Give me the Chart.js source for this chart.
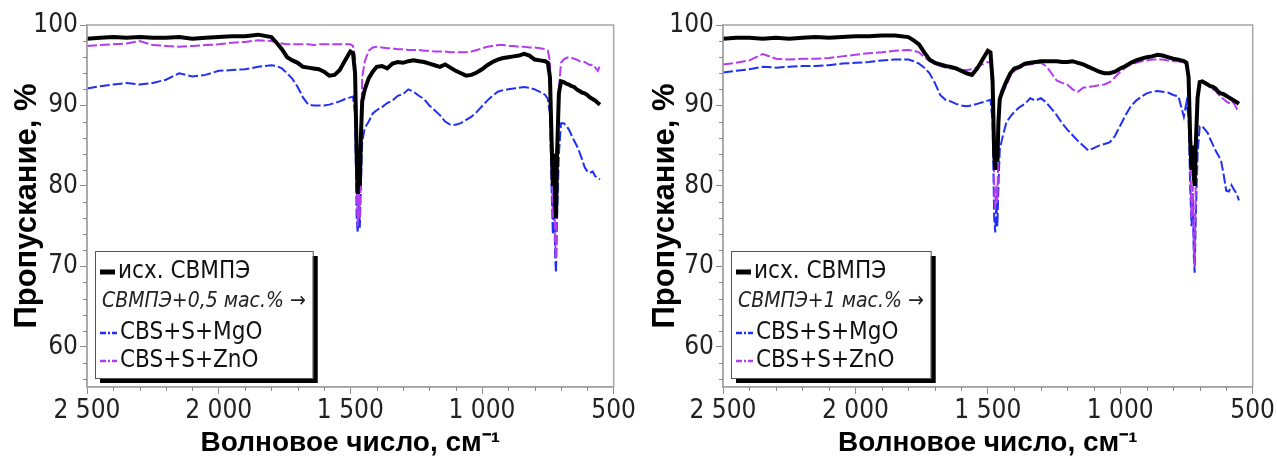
<!DOCTYPE html>
<html>
<head>
<meta charset="utf-8">
<script src="https://cdn.jsdelivr.net/npm/chart.js@4.4.1/dist/chart.umd.min.js"></script>
<style>
    body { margin: 0; background: #fff; }
    .panel { position: absolute; top: 0; }
</style>
</head>
<body>
<canvas id="leftChart" class="panel" style="left:0" width="638" height="457"></canvas>
<canvas id="rightChart" class="panel" style="left:638px" width="639" height="457"></canvas>
<script>
const wavenumbers = [
    2500, 2450, 2400, 2350, 2300, 2250, 2200, 2150, 2100, 2050, 2000, 1950, 1900, 1850, 1800,
    1780, 1760, 1740, 1720, 1700, 1680, 1660, 1640, 1620, 1600, 1580, 1560, 1540, 1520, 1500,
    1490, 1482, 1476, 1472, 1468, 1464, 1460, 1455,
    1445, 1430, 1415, 1400,
    1380, 1360, 1340, 1320, 1300, 1280, 1260, 1240, 1220, 1200, 1180, 1160, 1140, 1120, 1100, 1080,
    1060, 1040, 1020, 1000, 980, 960, 940, 920, 900, 880, 860, 840, 820, 800, 780, 760,
    750, 742, 736, 731, 726, 722, 719, 715, 708,
    700, 690, 680, 670, 660, 650, 640, 630, 620, 610, 600, 590, 580, 570, 560, 552
];

// левый график: +0,5 мас.%
const leftBase = [
    98.3, 98.4, 98.5, 98.4, 98.5, 98.4, 98.4, 98.5, 98.3, 98.4, 98.5, 98.6, 98.6, 98.8, 98.5,
    97.8, 97.0, 96.0, 95.6, 95.3, 94.8, 94.7, 94.6, 94.5, 94.2, 93.7, 93.8, 94.4, 95.6, 96.7,
    96.5, 94.0, 84, 79, 84, 80, 86, 90.5,
    92.0, 93.4, 94.2, 94.8,
    94.9, 94.6, 95.2, 95.4, 95.3, 95.5, 95.6, 95.5, 95.4, 95.2, 95.0, 94.8, 95.1, 94.7, 94.3, 94.0,
    93.7, 93.8, 94.1, 94.5, 95.0, 95.4, 95.7, 95.9, 96.0, 96.1, 96.2, 96.4, 96.2, 95.7, 95.6, 95.5,
    95.3, 93.5, 86, 80, 84, 78, 76, 84, 91.5,
    93.0, 92.9, 92.7, 92.6, 92.4, 92.3, 92.0, 91.8, 91.6, 91.5, 91.3, 91.0, 90.8, 90.6, 90.3, 90.1
];
const leftMgO = [
    92.1, 92.4, 92.6, 92.8, 92.6, 92.8, 93.2, 94.0, 93.6, 93.8, 94.3, 94.4, 94.5, 94.8, 95.0,
    94.9, 94.6, 94.0, 93.3, 92.3, 91.0, 90.1, 90.0, 90.0, 90.0, 90.1, 90.3, 90.5, 90.8, 91.0,
    91.1, 89, 76, 74.2, 78, 74.8, 80, 85.5,
    87.2, 88.0, 89.0, 89.4,
    89.8, 90.3, 90.6, 91.2, 91.4, 92.0, 91.7, 91.2, 90.8, 90.0, 89.4, 88.8, 88.0, 87.6, 87.6, 87.8,
    88.2, 88.6, 89.2, 89.9, 90.6, 91.2, 91.7, 91.9, 92.0, 92.1, 92.2, 92.3, 92.2, 92.0, 91.7, 91.3,
    90.8, 89, 80, 74, 78, 71, 69.2, 76, 84,
    87.8, 87.8, 87.5, 87.0, 86.3, 85.6, 85.0, 84.2, 83.3, 82.3, 81.8, 81.6, 81.8, 81.2, 81.0, 80.8
];
const leftZnO = [
    97.4, 97.5, 97.6, 97.7, 98.0, 97.5, 97.4, 97.3, 97.4, 97.5, 97.6, 97.8, 97.9, 98.1, 98.0,
    97.8, 97.7, 97.6, 97.6, 97.6, 97.6, 97.6, 97.5, 97.6, 97.6, 97.6, 97.6, 97.6, 97.6, 97.6,
    97.4, 96.0, 80, 75, 80, 76, 84, 93.5,
    95.5, 96.8, 97.2, 97.3,
    97.2, 97.1, 97.1, 97.0, 97.0, 96.9, 96.9, 96.9, 96.8, 96.8, 96.7, 96.7, 96.7, 96.6, 96.6, 96.6,
    96.6, 96.7, 96.9, 97.1, 97.3, 97.4, 97.5, 97.5, 97.4, 97.4, 97.3, 97.3, 97.2, 97.2, 97.1, 97.0,
    96.8, 95.5, 84, 76, 80, 73, 71, 80, 92,
    95.3, 95.7, 95.9, 96.0, 95.9, 95.8, 95.7, 95.5, 95.4, 95.4, 95.2, 95.0, 95.1, 94.7, 94.3, 95.0
];

// правый график: +1 мас.%
const rightBase = [
    98.3, 98.4, 98.4, 98.3, 98.4, 98.3, 98.4, 98.5, 98.4, 98.5, 98.6, 98.6, 98.7, 98.7, 98.5,
    98.1, 97.6, 96.6, 95.7, 95.3, 95.1, 94.9, 94.8, 94.6, 94.3, 94.0, 93.8, 94.6, 95.7, 96.8,
    96.6, 93, 84, 82, 85, 83, 88, 90.8,
    91.8, 93.0, 94.0, 94.6,
    94.8, 95.2, 95.3, 95.4, 95.5, 95.5, 95.5, 95.5, 95.4, 95.4, 95.5, 95.3, 95.1, 94.8, 94.5, 94.2,
    94.0, 94.0, 94.2, 94.6, 94.9, 95.3, 95.6, 95.8, 96.0, 96.1, 96.3, 96.2, 96.0, 95.8, 95.7, 95.5,
    95.3, 93.5, 86, 82, 85, 81, 80, 85, 91,
    92.9, 93.0, 92.8, 92.6, 92.4, 92.3, 92.1, 91.7, 91.5, 91.4, 91.2, 91.0, 90.8, 90.6, 90.4, 90.2
];
const rightMgO = [
    94.1, 94.3, 94.5, 94.8, 94.7, 94.8, 94.9, 94.9, 95.0, 95.2, 95.3, 95.4, 95.6, 95.7, 95.7,
    95.5, 95.2, 94.7, 94.0, 92.8, 91.3, 90.7, 90.5, 90.2, 90.0, 89.9, 90.0, 90.2, 90.4, 90.6,
    90.7, 88, 76, 74.2, 78, 75, 80, 84.5,
    86.0, 87.9, 88.6, 89.2,
    89.8, 90.2, 90.9, 90.6, 90.9, 90.4, 89.6, 88.8, 87.8, 87.0, 86.3, 85.6, 85.0, 84.4, 84.7, 85.0,
    85.2, 85.4, 86.2, 87.5, 88.8, 89.9, 90.6, 91.1, 91.5, 91.7, 91.8, 91.7, 91.6, 91.3, 91.1, 88.6,
    90.4, 88.5, 80, 75, 78, 71, 69.2, 76, 84,
    87.4, 87.4, 87.0, 86.6, 85.8, 85.1, 84.4, 83.8, 83.2, 81.5, 79.4, 79.3, 80.1, 79.5, 79.0, 78.2
];
const rightZnO = [
    95.1, 95.3, 95.6, 96.4, 95.8, 95.7, 95.8, 95.8, 95.9, 96.1, 96.3, 96.5, 96.6, 96.8, 96.9,
    96.8, 96.6, 96.0, 95.5, 95.2, 94.9, 94.7, 94.6, 94.5, 94.4, 94.4, 94.5, 94.8, 95.1, 95.4,
    95.3, 92, 80, 77, 80, 78, 85, 90.5,
    91.5, 92.5, 93.7, 94.3,
    94.7, 95.0, 95.1, 95.2, 95.3, 94.9, 94.0, 93.1, 92.8, 92.6, 92.0, 91.7, 92.2, 92.3, 92.4, 92.5,
    92.6, 92.9, 93.5, 94.2, 94.7, 95.1, 95.3, 95.5, 95.6, 95.7, 95.7, 95.7, 95.6, 95.5, 95.5, 95.3,
    95.1, 93, 84, 76, 80, 72, 70, 80, 90.5,
    92.9, 92.9, 92.7, 92.6, 92.3, 92.0, 91.8, 91.4, 91.0, 90.8, 90.5, 90.3, 90.6, 90.2, 89.6, 90.0
];

const seriesLabels = ['исх. СВМПЭ', 'CBS+S+MgO', 'CBS+S+ZnO'];
const groupLabels = ['СВМПЭ+0,5 мас.% →', 'СВМПЭ+1 мас.% →'];
const xTickValues = [2500, 2000, 1500, 1000, 500];
const yTickValues = [60, 70, 80, 90, 100];

const colors = { base: '#000000', mgo: '#1f2ff5', zno: '#b23cf0' };
const narrow = '"Liberation Sans Narrow", "DejaVu Sans Condensed", sans-serif';
const wide = '"Liberation Sans", Arial, sans-serif';

function points(values) {
    return wavenumbers.map((x, i) => ({ x: x, y: values[i] }));
}

// рамка, мелкие засечки и легенда
const framePlugin = {
    id: 'framePlugin',
    afterDraw(chart, args, opts) {
        const { ctx, chartArea: a, scales } = chart;
        ctx.save();
        ctx.strokeStyle = '#a6a6a6';
        ctx.lineWidth = 1.5;
        ctx.strokeRect(a.left, a.top, a.right - a.left, a.bottom - a.top);

        ctx.strokeStyle = '#8a8a8a';
        ctx.lineWidth = 1;
        ctx.beginPath();
        for (let v = 600; v < 2500; v += 100) {
            if (v % 500 === 0) continue;
            const px = Math.round(scales.x.getPixelForValue(v)) + 0.5;
            ctx.moveTo(px, a.bottom);
            ctx.lineTo(px, a.bottom + 4);
        }
        for (let v = 56; v < 100; v += 2) {
            if (v % 10 === 0) continue;
            const py = Math.round(scales.y.getPixelForValue(v)) + 0.5;
            ctx.moveTo(a.left - 4, py);
            ctx.lineTo(a.left, py);
        }
        ctx.stroke();

        // легенда
        const fontN = '24px ' + narrow;
        const fontI = 'italic 21px ' + narrow;
        ctx.font = fontI;
        let w = ctx.measureText(opts.group).width + 14;
        ctx.font = fontN;
        w = Math.max(w, ctx.measureText(seriesLabels[1]).width + 34);
        const bx = a.left + 8, by = a.top + 226, bh = 127;
        ctx.fillStyle = '#000';
        ctx.fillRect(bx + 5, by + 5, w, bh);
        ctx.fillStyle = '#fff';
        ctx.fillRect(bx, by, w, bh);
        ctx.strokeStyle = '#555';
        ctx.lineWidth = 1;
        ctx.strokeRect(bx + 0.5, by + 0.5, w, bh);

        const rows = [21, 51, 82, 110];
        ctx.textBaseline = 'middle';
        ctx.fillStyle = '#111';

        ctx.lineWidth = 5;
        ctx.strokeStyle = colors.base;
        ctx.beginPath();
        ctx.moveTo(bx + 5, by + rows[0]);
        ctx.lineTo(bx + 20, by + rows[0]);
        ctx.stroke();
        ctx.font = fontN;
        ctx.fillText(seriesLabels[0], bx + 23, by + rows[0]);

        ctx.font = fontI;
        ctx.fillStyle = '#222';
        ctx.fillText(opts.group, bx + 7, by + rows[1]);

        [[colors.mgo, seriesLabels[1], rows[2]], [colors.zno, seriesLabels[2], rows[3]]].forEach(([c, t, r]) => {
            ctx.strokeStyle = c;
            ctx.lineWidth = 2.5;
            ctx.setLineDash([6, 2, 2, 2]);
            ctx.beginPath();
            ctx.moveTo(bx + 5, by + r);
            ctx.lineTo(bx + 22, by + r);
            ctx.stroke();
            ctx.setLineDash([]);
            ctx.fillStyle = '#111';
            ctx.font = fontN;
            ctx.fillText(t, bx + 25, by + r);
        });
        ctx.restore();
    }
};

function makeChart(id, base, mgo, zno, group, yWidth, padRight) {
    return new Chart(document.getElementById(id), {
        type: 'line',
        data: {
            datasets: [
                { label: seriesLabels[0], data: points(base), borderColor: colors.base, borderWidth: 4, order: 0 },
                { label: seriesLabels[2], data: points(zno), borderColor: colors.zno, borderWidth: 2, borderDash: [10, 3], order: 1 },
                { label: seriesLabels[1], data: points(mgo), borderColor: colors.mgo, borderWidth: 2, borderDash: [10, 3], order: 2 }
            ]
        },
        options: {
            responsive: false,
            animation: false,
            elements: { point: { radius: 0 }, line: { tension: 0, fill: false } },
            layout: { padding: { top: 25, right: padRight, left: 0, bottom: 0 } },
            plugins: {
                legend: { display: false },
                tooltip: { enabled: false },
                framePlugin: { group: group }
            },
            scales: {
                x: {
                    type: 'linear',
                    reverse: true,
                    min: 500,
                    max: 2500,
                    afterBuildTicks: s => { s.ticks = xTickValues.map(v => ({ value: v })); },
                    afterFit: s => { s.height = 70; },
                    grid: { drawOnChartArea: false, tickLength: 7, tickColor: '#8a8a8a' },
                    border: { color: '#a0a0a0', width: 1.5 },
                    ticks: {
                        autoSkip: false,
                        maxRotation: 0,
                        padding: 2,
                        color: '#222',
                        font: { family: narrow, size: 26 },
                        callback: v => v >= 1000 ? Math.floor(v / 1000) + ' ' + String(v % 1000).padStart(3, '0') : String(v)
                    },
                    title: {
                        display: true,
                        text: 'Волновое число, см⁻¹',
                        color: '#000',
                        font: { family: wide, size: 28, weight: 'bold', lineHeight: 1 },
                        padding: { top: 2, bottom: 0 }
                    }
                },
                y: {
                    min: 55,
                    max: 100,
                    afterBuildTicks: s => { s.ticks = yTickValues.map(v => ({ value: v })); },
                    afterFit: s => { s.width = yWidth; },
                    grid: { drawOnChartArea: false, tickLength: 7, tickColor: '#8a8a8a' },
                    border: { color: '#a0a0a0', width: 1.5 },
                    ticks: {
                        padding: 2,
                        color: '#222',
                        font: { family: narrow, size: 26 }
                    },
                    title: {
                        display: true,
                        text: 'Пропускание, %',
                        color: '#000',
                        font: { family: wide, size: 31, weight: 'bold', lineHeight: 1 },
                        padding: { top: 12, bottom: 0 }
                    }
                }
            }
        },
        plugins: [framePlugin]
    });
}

makeChart('leftChart', leftBase, leftMgO, leftZnO, groupLabels[0], 87, 18);
makeChart('rightChart', rightBase, rightMgO, rightZnO, groupLabels[1], 85, 21);
</script>
</body>
</html>
